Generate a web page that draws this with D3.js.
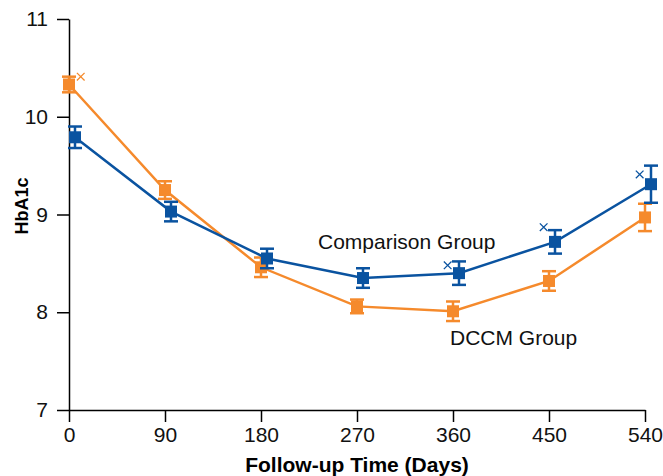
<!DOCTYPE html>
<html>
<head>
<meta charset="utf-8">
<script src="https://cdn.jsdelivr.net/npm/d3@7"></script>
<style>
  body { margin: 0; background: #fff; }
  text { font-family: "Liberation Sans", Arial, sans-serif; }
</style>
</head>
<body>
<svg width="663" height="476"></svg>
<script>
// follow-up days
var days = [0, 90, 180, 270, 360, 450, 540];
var xTicks = [0, 90, 180, 270, 360, 450, 540];
var yTicks = [7, 8, 9, 10, 11];

// DCCM group (orange)
var dccmMean = [10.33, 9.25, 8.46, 8.06, 8.01, 8.32, 8.97];
var dccmErr  = [0.08, 0.09, 0.10, 0.07, 0.10, 0.10, 0.14];
// Comparison group (blue)
var compMean = [9.79, 9.03, 8.55, 8.35, 8.40, 8.72, 9.31];
var compErr  = [0.11, 0.10, 0.10, 0.10, 0.12, 0.12, 0.19];

// extra "x" markers
var dccmXDays = [11];
var dccmXVals = [10.41];
var compXDays = [355, 445, 535];
var compXVals = [8.48, 8.87, 9.41];

var svg = d3.select("svg");
var left_margin = 69, top_margin = 19;
var width = 645 - left_margin;
var height = 410 - top_margin;

var x = d3.scaleLinear().domain([0, 540]).range([0, width]);
var y = d3.scaleLinear().domain([7, 11]).range([height, 0]);

var g = svg.append("g").attr("transform", "translate(" + left_margin + "," + top_margin + ")");

// axes
var xAxis = g.append("g")
  .attr("transform", "translate(0," + height + ")")
  .call(d3.axisBottom(x).tickValues(xTicks).tickSize(12).tickPadding(5).tickSizeOuter(0));
var yAxis = g.append("g")
  .call(d3.axisLeft(y).tickValues(yTicks).tickFormat(d3.format("d")).tickSize(12).tickPadding(9).tickSizeOuter(0));

[xAxis, yAxis].forEach(function(a) {
  a.select(".domain").attr("stroke", "#000").attr("stroke-width", 1.5);
  a.selectAll(".tick line").attr("stroke", "#000").attr("stroke-width", 1.5);
  a.selectAll(".tick text").attr("fill", "#111").style("font-size", "21px")
    .style("font-family", "'Liberation Sans', Arial, sans-serif");
});

// axis titles
svg.append("text")
  .attr("x", 357).attr("y", 472)
  .attr("text-anchor", "middle")
  .style("font-size", "21px").style("font-weight", "bold")
  .text("Follow-up Time (Days)");
svg.append("text")
  .attr("transform", "translate(28,206) rotate(-90)")
  .attr("text-anchor", "middle")
  .style("font-size", "18px").style("font-weight", "bold")
  .text("HbA1c");

function drawSeries(means, errs, color, dx) {
  var pts = days.map(function(d, i) { return { d: d, m: means[i], e: errs[i] }; });
  var s = g.append("g").attr("transform", "translate(" + dx + ",0)");
  s.append("path")
    .datum(pts)
    .attr("fill", "none")
    .attr("stroke", color)
    .attr("stroke-width", 2.5)
    .attr("d", d3.line().x(function(p) { return x(p.d); }).y(function(p) { return y(p.m); }));
  var eb = s.selectAll(".eb").data(pts).enter().append("g").attr("class", "eb")
    .attr("stroke", color).attr("stroke-width", 2.5);
  eb.append("line")
    .attr("x1", function(p) { return x(p.d); }).attr("x2", function(p) { return x(p.d); })
    .attr("y1", function(p) { return y(p.m - p.e); }).attr("y2", function(p) { return y(p.m + p.e); });
  eb.append("line")
    .attr("x1", function(p) { return x(p.d) - 7; }).attr("x2", function(p) { return x(p.d) + 7; })
    .attr("y1", function(p) { return y(p.m + p.e); }).attr("y2", function(p) { return y(p.m + p.e); });
  eb.append("line")
    .attr("x1", function(p) { return x(p.d) - 7; }).attr("x2", function(p) { return x(p.d) + 7; })
    .attr("y1", function(p) { return y(p.m - p.e); }).attr("y2", function(p) { return y(p.m - p.e); });
  s.selectAll(".sq").data(pts).enter().append("rect")
    .attr("x", function(p) { return x(p.d) - 6; })
    .attr("y", function(p) { return y(p.m) - 6; })
    .attr("width", 12).attr("height", 12)
    .attr("fill", color);
}

function drawX(ds, vals, color) {
  var pts = ds.map(function(d, i) { return { d: d, v: vals[i] }; });
  g.selectAll(null).data(pts).enter().append("path")
    .attr("d", d3.symbol().type(d3.symbolX).size(40))
    .attr("transform", function(p) { return "translate(" + x(p.d) + "," + y(p.v) + ")"; })
    .attr("fill", "none").attr("stroke", color).attr("stroke-width", 1.3);
}

var blue = "#0a53a0", orange = "#f58a2c";
drawSeries(dccmMean, dccmErr, orange, 0);
drawSeries(compMean, compErr, blue, 6);
drawX(dccmXDays, dccmXVals, orange);
drawX(compXDays, compXVals, blue);

// series labels
svg.append("text").attr("x", 318).attr("y", 249)
  .style("font-size", "21px").attr("fill", "#111").text("Comparison Group");
svg.append("text").attr("x", 450).attr("y", 345)
  .style("font-size", "21px").attr("fill", "#111").text("DCCM Group");
</script>
</body>
</html>
